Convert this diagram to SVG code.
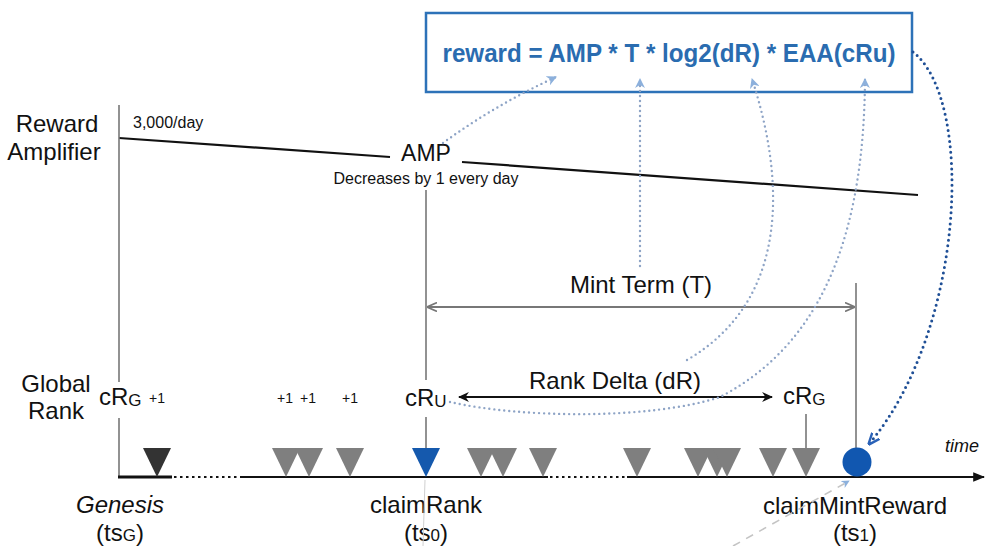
<svg xmlns="http://www.w3.org/2000/svg" width="991" height="546" viewBox="0 0 991 546">
<defs>
<style>
.t{font-family:"Liberation Sans",Arial,Helvetica,sans-serif;fill:#111}
.l24{font-size:24px}
.l16{font-size:16px}
.l14{font-size:14px}
.it{font-style:italic}
.vline{stroke:#777;stroke-width:1.6;fill:none}
.tri{fill:#7f7f7f}
.dotb{stroke:#8ea4c6;stroke-width:2.4;stroke-dasharray:0 5;stroke-linecap:round;fill:none}
.formula{font-family:"Liberation Sans",Arial,Helvetica,sans-serif;font-weight:bold;font-size:25px;fill:#2a6cb0}
</style>
<marker id="lb" viewBox="0 0 10 10" refX="9" refY="5" markerWidth="10" markerHeight="10" orient="auto-start-reverse" markerUnits="userSpaceOnUse">
<path d="M0,0 L10,5 L0,10 L3,5 z" fill="#8cb0dc"/>
</marker>
<marker id="navy" viewBox="0 0 10 10" refX="9" refY="5" markerWidth="12" markerHeight="12" orient="auto" markerUnits="userSpaceOnUse">
<path d="M0,1 L10,5 L0,9" fill="none" stroke="#2a62b8" stroke-width="2"/>
</marker>
<marker id="gray" viewBox="0 0 10 10" refX="9" refY="5" markerWidth="10" markerHeight="10" orient="auto-start-reverse" markerUnits="userSpaceOnUse">
<path d="M0,0.5 L10,5 L0,9.5" fill="none" stroke="#777" stroke-width="1.6"/>
</marker>
<marker id="blk" viewBox="0 0 10 10" refX="9" refY="5" markerWidth="11" markerHeight="11" orient="auto-start-reverse" markerUnits="userSpaceOnUse">
<path d="M0,0.5 L10,5 L0,9.5 L3,5 z" fill="#111"/>
</marker>
<marker id="time" viewBox="0 0 10 10" refX="9" refY="5" markerWidth="12" markerHeight="12" orient="auto" markerUnits="userSpaceOnUse">
<path d="M0,1 L10,5 L0,9 z" fill="#111"/>
</marker>
<marker id="faint" viewBox="0 0 10 10" refX="9" refY="5" markerWidth="8" markerHeight="8" orient="auto" markerUnits="userSpaceOnUse">
<path d="M0,0 L10,5 L0,10 L3,5 z" fill="#8cb0dc"/>
</marker>
</defs>
<rect width="991" height="546" fill="#fff"/>

<g id="formula-box">
<rect x="426" y="13" width="486" height="79" fill="#fff" stroke="#2d72b8" stroke-width="2.5"/>
<text class="formula" x="669" y="62" text-anchor="middle" textLength="453" lengthAdjust="spacingAndGlyphs">reward = AMP * T * log2(dR) * EAA(cRu)</text>
</g>

<g id="reward-amplifier">
<text class="t l24" x="57" y="132" text-anchor="middle">Reward</text>
<text class="t l24" x="54" y="160" text-anchor="middle">Amplifier</text>
<text class="t l16" x="133" y="128">3,000/day</text>
<line x1="119" y1="138" x2="390" y2="157" stroke="#111" stroke-width="2.2"/>
<line x1="462" y1="162" x2="918" y2="195" stroke="#111" stroke-width="2.2"/>
</g>

<g id="amp">
<text class="t" x="426" y="161" text-anchor="middle" font-size="23">AMP</text>
<text class="t l16" x="426" y="184" text-anchor="middle">Decreases by 1 every day</text>
</g>

<g id="global-rank">
<text class="t l24" x="56" y="392" text-anchor="middle">Global</text>
<text class="t l24" x="56" y="419" text-anchor="middle">Rank</text>
</g>

<g id="guides">
<line class="vline" x1="119" y1="105" x2="119" y2="382"/>
<line class="vline" x1="119" y1="418" x2="119" y2="477"/>
<line class="vline" x1="426" y1="190" x2="426" y2="380"/>
<line class="vline" x1="426" y1="417" x2="426" y2="460"/>
<line class="vline" x1="856" y1="283" x2="856" y2="448"/>
<line class="vline" x1="806" y1="414" x2="806" y2="450"/>
</g>

<g id="rank-labels">
<text class="t l24" x="99" y="405">cR<tspan font-size="17" dy="1">G</tspan></text>
<text class="t l24" x="405" y="406">cR<tspan font-size="17" dy="1">U</tspan></text>
<text class="t l24" x="783" y="404">cR<tspan font-size="17" dy="1">G</tspan></text>
<text class="t l14" x="157" y="403" text-anchor="middle">+1</text>
<text class="t l14" x="285" y="403" text-anchor="middle">+1</text>
<text class="t l14" x="308" y="403" text-anchor="middle">+1</text>
<text class="t l14" x="350" y="403" text-anchor="middle">+1</text>
</g>

<g id="mint-term">
<text class="t l24" x="641" y="293" text-anchor="middle">Mint Term (T)</text>
</g>
<g id="rank-delta">
<text class="t l24" x="615" y="389" text-anchor="middle">Rank Delta (dR)</text>
</g>

<g id="timeline">
<line x1="118" y1="477" x2="172" y2="477" stroke="#111" stroke-width="3"/>
<line x1="174" y1="477" x2="242" y2="477" stroke="#111" stroke-width="2.2" stroke-dasharray="2.5 3.5"/>
<line x1="242" y1="477" x2="548" y2="477" stroke="#111" stroke-width="2.2"/>
<line x1="550" y1="477" x2="627" y2="477" stroke="#111" stroke-width="2.2" stroke-dasharray="2.5 3.5"/>
<line x1="627" y1="477" x2="984" y2="477" stroke="#111" stroke-width="2.2" marker-end="url(#time)"/>
<text class="t it" x="945" y="452" font-size="18">time</text>
</g>

<g id="events">
<path d="M143,448 L171,448 L157,477 z" fill="#333"/>
<path class="tri" d="M272,448 L300,448 L286,477 z"/>
<path class="tri" d="M295,448 L323,448 L309,477 z"/>
<path class="tri" d="M336,448 L364,448 L350,477 z"/>
<path d="M412,448 L440,448 L426,477 z" fill="#1559ad"/>
<path class="tri" d="M467,448 L495,448 L481,477 z"/>
<path class="tri" d="M489,448 L517,448 L503,477 z"/>
<path class="tri" d="M529,448 L557,448 L543,477 z"/>
<path class="tri" d="M623,448 L651,448 L637,477 z"/>
<path class="tri" d="M684,448 L712,448 L698,477 z"/>
<path class="tri" d="M703,448 L731,448 L717,477 z"/>
<path class="tri" d="M713,448 L741,448 L727,477 z"/>
<path class="tri" d="M759,448 L787,448 L773,477 z"/>
<path class="tri" d="M792,448 L820,448 L806,477 z"/>
<circle cx="857" cy="462" r="14.5" fill="#1157b0"/>
</g>

<g id="bottom-labels">
<text class="t l24 it" x="120" y="513" text-anchor="middle">Genesis</text>
<text class="t l24" x="120" y="541" text-anchor="middle">(ts<tspan font-size="17">G</tspan>)</text>
<text class="t l24" x="426" y="513" text-anchor="middle">claimRank</text>
<text class="t l24" x="426" y="541" text-anchor="middle">(ts<tspan font-size="17">0</tspan>)</text>
<text class="t l24" x="855" y="514" text-anchor="middle">claimMintReward</text>
<text class="t l24" x="855" y="541" text-anchor="middle">(ts<tspan font-size="17">1</tspan>)</text>
</g>

<g id="connectors">
<line x1="428" y1="307" x2="854" y2="307" stroke="#777" stroke-width="1.8" marker-start="url(#gray)" marker-end="url(#gray)"/>
<line x1="459" y1="397" x2="772" y2="397" stroke="#111" stroke-width="1.8" marker-start="url(#blk)" marker-end="url(#blk)"/>
<path class="dotb" d="M443,143 Q495,105 556,77" marker-end="url(#lb)"/>
<path class="dotb" d="M640,266 L640,79" marker-end="url(#lb)"/>
<path class="dotb" d="M687,360 C790,300 785,180 752,79" marker-end="url(#lb)"/>
<path class="dotb" d="M450,402 C520,418 650,420 720,397 C830,340 864,220 865,79" marker-end="url(#lb)"/>
<path d="M913,52 C975,100 965,330 869,444" fill="none" stroke="#1f4f96" stroke-width="3" stroke-dasharray="0 5.5" stroke-linecap="round" marker-end="url(#navy)"/>
<line x1="733" y1="546" x2="849" y2="481" stroke="#c4c4c4" stroke-width="1.6" stroke-dasharray="8 7" marker-end="url(#faint)"/>
<line x1="425" y1="480" x2="423" y2="546" stroke="#cfcfcf" stroke-width="1"/>
</g>
</svg>
